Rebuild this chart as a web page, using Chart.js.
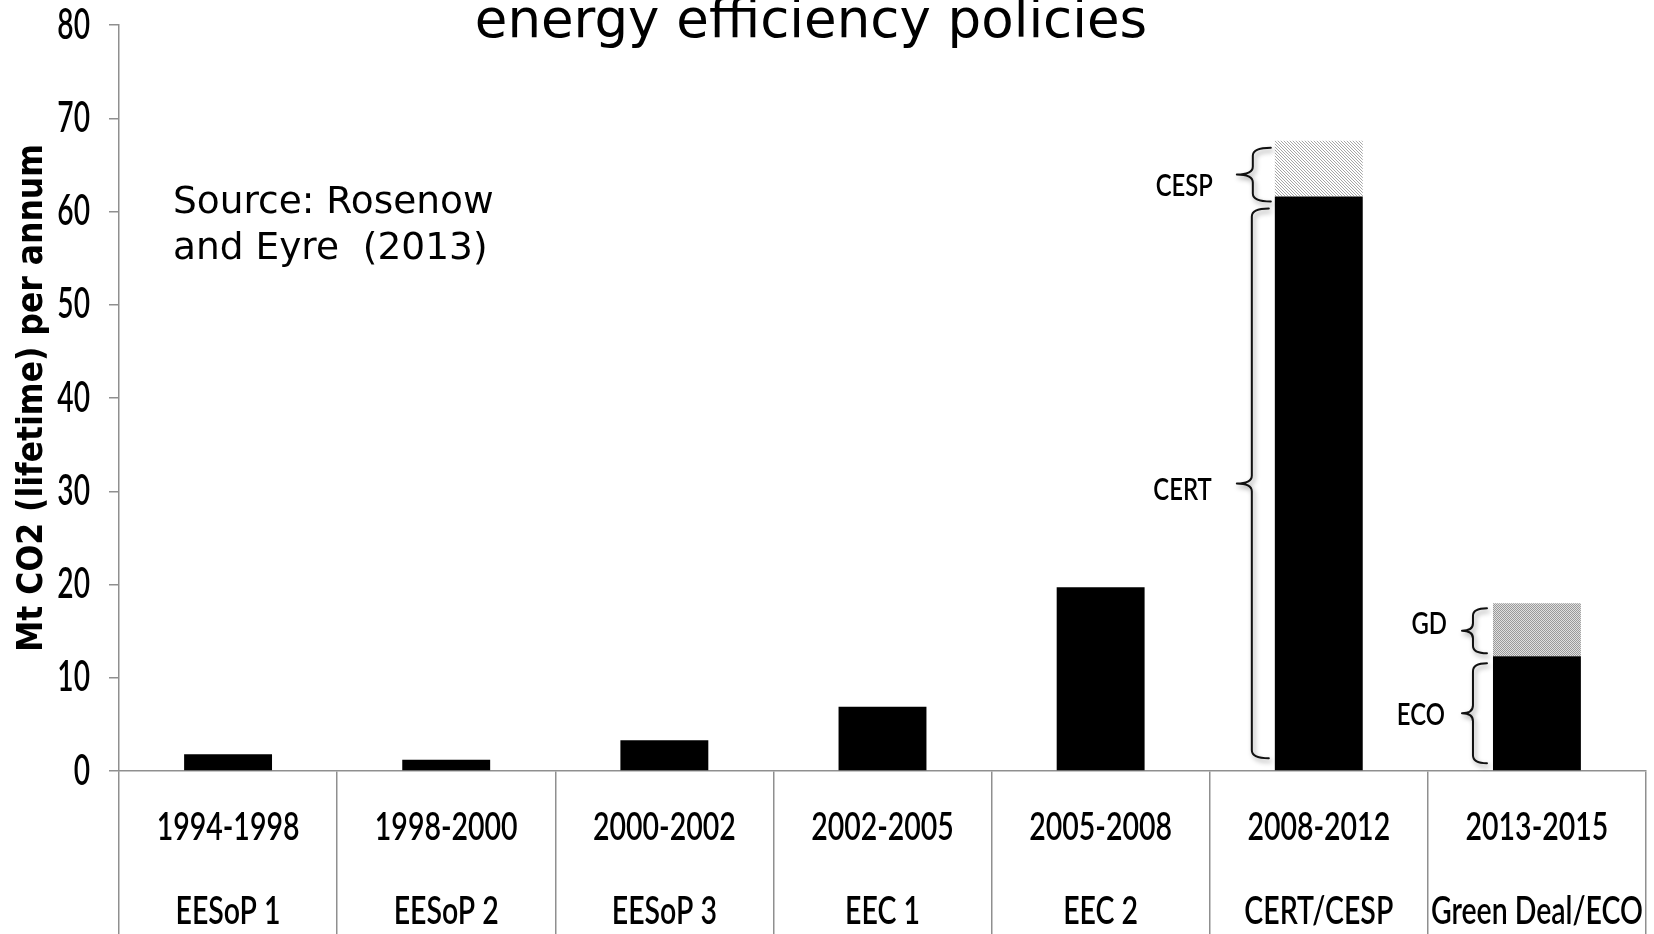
<!DOCTYPE html>
<html>
<head>
<meta charset="utf-8">
<title>energy efficiency policies</title>
<script src="https://cdn.jsdelivr.net/npm/chart.js@4.4.1/dist/chart.umd.min.js"></script>
<style>
  html, body { margin: 0; padding: 0; background: #ffffff; overflow: hidden; }
  #wrap { width: 1654px; height: 934px; position: relative; }
</style>
</head>
<body>
<div id="wrap"><canvas id="chart" width="1654" height="934"></canvas></div>
<script>
// Supplier obligation periods and programme names
const periods = ['1994-1998', '1998-2000', '2000-2002', '2002-2005', '2005-2008', '2008-2012', '2013-2015'];
const programmes = ['EESoP 1', 'EESoP 2', 'EESoP 3', 'EEC 1', 'EEC 2', 'CERT/CESP', 'Green Deal/ECO'];

// Lifetime CO2 savings per annum (Mt): main scheme, plus the add-on scheme stacked above it
const mainSavings = [1.8, 1.2, 3.3, 6.9, 19.7, 61.6, 12.3];
const addOnSavings = [null, null, null, null, null, 6.0, 5.7];

// Value axis
const yMin = 0;
const yMax = 80;
const yStep = 10;

// Scheme names marked with braces beside the split bars
const braceNames = ['CESP', 'CERT', 'GD', 'ECO'];
const braceDatasets = [1, 0, 1, 0];
const braceIndexes = [5, 5, 6, 6];

const LABEL_FONT = 'Lato, "Open Sans", sans-serif';
const AXIS_GREY = '#8f8f8f';

// Fill patterns for the add-on segments
function makePattern(size, paint) {
  const c = document.createElement('canvas');
  c.width = size; c.height = size;
  const g = c.getContext('2d');
  paint(g, size);
  return g.createPattern(c, 'repeat');
}
const ctx0 = document.getElementById('chart').getContext('2d');
const hatchFill = makePattern(3, (g, s) => {
  g.fillStyle = '#ffffff'; g.fillRect(0, 0, s, s);
  g.fillStyle = '#a6a6a6';
  for (let i = 0; i < s; i++) g.fillRect(i, i, 1, 1);
});
const dotFill = makePattern(2, (g, s) => {
  g.fillStyle = '#e0e0e0'; g.fillRect(0, 0, s, s);
  g.fillStyle = '#9a9a9a';
  g.fillRect(0, 0, 1, 1); g.fillRect(1, 1, 1, 1);
});
const addOnFills = addOnSavings.map((v, i) => (i === 5 ? hatchFill : dotFill));

// Text squeezed horizontally, in the style of a narrow office font
function narrowText(ctx, text, x, y, size, align, squeeze) {
  ctx.save();
  ctx.translate(x, y);
  ctx.scale(squeeze, 1);
  ctx.font = '600 ' + size + 'px ' + LABEL_FONT;
  ctx.textAlign = align;
  ctx.textBaseline = 'middle';
  ctx.fillStyle = '#000000';
  ctx.fillText(text, 0, 0);
  ctx.restore();
}

// Curly brace geometry per marked segment (pixels)
const braceStyle = [
  { insetTop: 7, insetBottom: -5, offset: 22, curl: 18, tip: 16, gap: 62, dy: 11 },
  { insetTop: 12, insetBottom: 12, offset: 23, curl: 17, tip: 15, gap: 63, dy: 7 },
  { insetTop: 5, insetBottom: 3, offset: 20, curl: 14, tip: 11, gap: 46, dy: -7 },
  { insetTop: 7, insetBottom: 7, offset: 20, curl: 14, tip: 11, gap: 48, dy: 2 }
];

function drawBrace(ctx, x, y1, y2, curl, tip) {
  const ym = (y1 + y2) / 2;
  const r = Math.min(8, (y2 - y1) / 6);
  ctx.beginPath();
  ctx.moveTo(x + curl, y1);
  ctx.quadraticCurveTo(x, y1, x, y1 + r);
  ctx.lineTo(x, ym - r);
  ctx.quadraticCurveTo(x, ym, x - tip, ym);
  ctx.quadraticCurveTo(x, ym, x, ym + r);
  ctx.lineTo(x, y2 - r);
  ctx.quadraticCurveTo(x, y2, x + curl, y2);
  ctx.stroke();
}

const bracesPlugin = {
  id: 'schemeBraces',
  afterDatasetsDraw(chart) {
    const ctx = chart.ctx;
    braceNames.forEach((name, k) => {
      const el = chart.getDatasetMeta(braceDatasets[k]).data[braceIndexes[k]];
      if (!el) return;
      const st = braceStyle[k];
      const left = el.x - el.width / 2;
      const top = Math.min(el.y, el.base);
      const bottom = Math.max(el.y, el.base);
      const y1 = top + st.insetTop;
      const y2 = bottom - st.insetBottom;
      const x = left - st.offset;
      ctx.save();
      ctx.strokeStyle = '#111111';
      ctx.lineWidth = 2;
      ctx.lineJoin = 'round';
      ctx.lineCap = 'round';
      ctx.shadowColor = 'rgba(0,0,0,0.4)';
      ctx.shadowBlur = 5;
      ctx.shadowOffsetX = 2;
      ctx.shadowOffsetY = 3;
      drawBrace(ctx, x, y1, y2, st.curl, st.tip);
      ctx.restore();
      narrowText(ctx, name, left - st.gap, (y1 + y2) / 2 + st.dy, 31, 'right', 0.77);
    });
  }
};

// Axis labels, placed from the scales' own tick positions
const axisLabelsPlugin = {
  id: 'axisLabels',
  afterDraw(chart) {
    const ctx = chart.ctx;
    const xs = chart.scales.x;
    const ys = chart.scales.y;
    xs.ticks.forEach((t, i) => {
      const px = xs.getPixelForTick(i);
      const lines = chart.data.labels[i];
      narrowText(ctx, lines[0], px, xs.top + 56, 39, 'center', 0.73);
      narrowText(ctx, lines[1], px, xs.top + 140, 39, 'center', 0.73);
    });
    ys.ticks.forEach((t, i) => {
      const py = ys.getPixelForTick(i);
      narrowText(ctx, String(t.value), ys.right - 29, py, 42, 'right', 0.67);
    });
  }
};

// Heading (runs off the top edge) and the source note
const textPlugin = {
  id: 'headingText',
  afterDraw(chart) {
    const ctx = chart.ctx;
    ctx.save();
    ctx.fillStyle = '#000000';
    ctx.textBaseline = 'alphabetic';
    ctx.textAlign = 'center';
    ctx.font = '53px "DejaVu Sans", Verdana, sans-serif';
    ctx.fillText('energy efficiency policies', 811, 37);
    ctx.textAlign = 'left';
    ctx.font = '37.5px "DejaVu Sans", Verdana, sans-serif';
    ctx.fillText('Source: Rosenow', 173, 213);
    ctx.fillText('and Eyre  (2013)', 173, 259);
    ctx.restore();
  }
};

const whiteBg = {
  id: 'whiteBg',
  beforeDraw(chart) {
    const ctx = chart.ctx;
    ctx.save();
    ctx.fillStyle = '#ffffff';
    ctx.fillRect(0, 0, chart.width, chart.height);
    ctx.restore();
  }
};

new Chart(ctx0, {
  type: 'bar',
  data: {
    labels: periods.map((p, i) => [p, programmes[i]]),
    datasets: [
      {
        label: 'Main scheme',
        data: mainSavings,
        backgroundColor: '#000000',
        borderWidth: 0,
        stack: 'total'
      },
      {
        label: 'Add-on scheme',
        data: addOnSavings,
        backgroundColor: addOnFills,
        borderWidth: 0,
        stack: 'total'
      }
    ]
  },
  options: {
    responsive: false,
    animation: false,
    devicePixelRatio: 1,
    layout: { padding: { top: 25, right: 8, left: 0, bottom: 0 } },
    datasets: { bar: { barPercentage: 0.403, categoryPercentage: 1.0 } },
    plugins: {
      legend: { display: false },
      tooltip: { enabled: false },
      title: { display: false }
    },
    scales: {
      x: {
        stacked: true,
        offset: true,
        grid: {
          offset: true,
          drawOnChartArea: false,
          drawTicks: true,
          tickLength: 165,
          color: AXIS_GREY,
          lineWidth: 1.5
        },
        border: { display: true, color: AXIS_GREY, width: 1.5 },
        ticks: { display: false, autoSkip: false, maxRotation: 0 },
        afterFit(scale) { scale.height = 163; scale.paddingLeft = 0; scale.paddingRight = 0; }
      },
      y: {
        stacked: true,
        min: yMin,
        max: yMax,
        grid: {
          drawOnChartArea: false,
          drawTicks: true,
          tickLength: 10,
          color: AXIS_GREY,
          lineWidth: 1.5
        },
        border: { display: true, color: AXIS_GREY, width: 1.5 },
        ticks: { display: false, stepSize: yStep },
        title: {
          display: true,
          text: 'Mt CO2 (lifetime) per annum',
          color: '#000000',
          font: { family: '"DejaVu Sans Condensed", "DejaVu Sans", sans-serif', size: 35, weight: 'bold' },
          padding: { top: 12, bottom: 0 }
        },
        afterFit(scale) { scale.width = 119; scale.paddingTop = 0; scale.paddingBottom = 0; }
      }
    }
  },
  plugins: [whiteBg, bracesPlugin, axisLabelsPlugin, textPlugin]
});
</script>
</body>
</html>
